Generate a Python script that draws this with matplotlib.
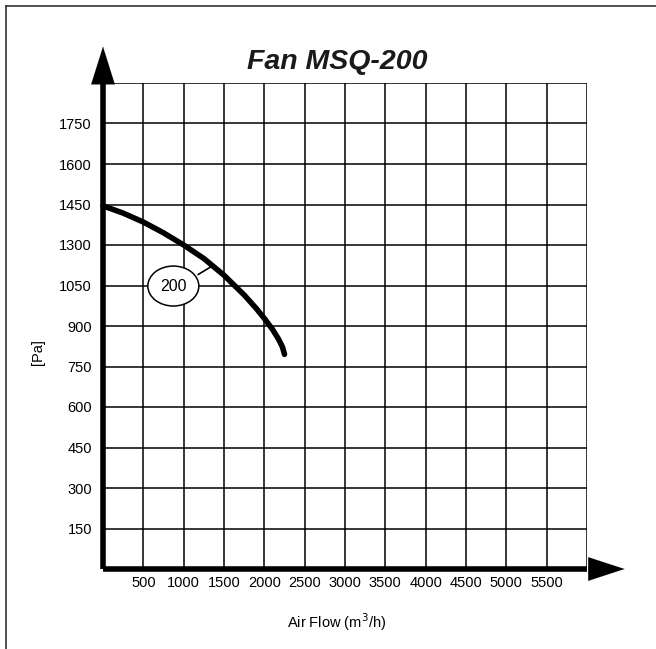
import matplotlib.pyplot as plt
from matplotlib.patches import Ellipse
from matplotlib.lines import Line2D

plt.rcParams['font.family'] = ['Liberation Sans', 'DejaVu Sans']

# fan curve MSQ-200 (air flow m3/h, pressure on the uniform 150 Pa grid)
flow = [0, 250, 500, 750, 1000, 1250, 1500, 1750, 1900, 2000, 2100, 2175, 2225, 2250]
pressure = [1345, 1318, 1285, 1245, 1200, 1150, 1088, 1015, 965, 928, 888, 852, 822, 795]

x_ticks = [500, 1000, 1500, 2000, 2500, 3000, 3500, 4000, 4500, 5000, 5500]
y_ticks = [150, 300, 450, 600, 750, 900, 1050, 1200, 1350, 1500, 1650]
# labels as printed on the original sheet
y_labels = ["150", "300", "450", "600", "750", "900", "1050", "1300", "1450", "1600", "1750"]

W, H = 656, 649
fig = plt.figure(figsize=(W / 100, H / 100), dpi=100)

# page frame (left + top only)
fig.add_artist(Line2D([6 / W, 6 / W], [0, 1 - 6 / H], color="#333333", lw=1.2))
fig.add_artist(Line2D([6 / W, 1], [1 - 6 / H, 1 - 6 / H], color="#333333", lw=1.2))

ax = fig.add_axes([103 / W, (H - 569) / H, 484 / W, 486 / H])
ax.set_xlim(0, 6000)
ax.set_ylim(0, 1800)

# grid
for gx in range(500, 6001, 500):
    ax.axvline(gx, color="black", lw=1.1, zorder=1)
for gy in range(150, 1801, 150):
    ax.axhline(gy, color="black", lw=1.1, zorder=1)

for s in ax.spines.values():
    s.set_visible(False)

ax.set_xticks(x_ticks)
ax.set_xticklabels([str(v) for v in x_ticks], fontsize=10.5)
ax.set_yticks(y_ticks)
ax.set_yticklabels(y_labels, fontsize=10.5)
ax.tick_params(axis="x", length=0, pad=5)
ax.tick_params(axis="y", length=0, pad=8)

# axes with arrows
ax.plot([0, 6000], [0, 0], color="black", lw=4, solid_capstyle="butt", clip_on=False, zorder=4)
ax.plot([0, 0], [0, 1800], color="black", lw=4, solid_capstyle="butt", clip_on=False, zorder=4)
ax.annotate("", xy=(6500, 0), xytext=(6040, 0),
            arrowprops=dict(arrowstyle="-|>,head_length=2.6,head_width=0.85", color="black", lw=0.1),
            annotation_clip=False)
ax.annotate("", xy=(0, 1945), xytext=(0, 1790),
            arrowprops=dict(arrowstyle="-|>,head_length=2.7,head_width=0.85", color="black", lw=0.1),
            annotation_clip=False)

# fan curve
ax.plot(flow, pressure, color="black", lw=4, solid_capstyle="round", solid_joinstyle="round",
        zorder=5, clip_on=False)

# curve label
ax.plot([1181, 1347], [1091, 1121], color="black", lw=1.2, zorder=5)
ax.add_patch(Ellipse((872, 1048), 632, 148, facecolor="white", edgecolor="black", lw=1.1, zorder=6))
ax.text(872, 1048, "200", ha="center", va="center", fontsize=11.5, zorder=7)

fig.text(337 / W, 1 - 62 / H, "Fan MSQ-200", ha="center", va="center",
         fontsize=20.5, fontweight="bold", fontstyle="italic", color="#1a1a1a")
fig.text(337 / W, 1 - 622 / H, "Air Flow (m$^3$/h)", ha="center", va="center", fontsize=10.5)
fig.text(38 / W, 1 - 352 / H, "[Pa]", ha="center", va="center", rotation=90, fontsize=10.5)

fig.savefig("out.png", dpi=100)
